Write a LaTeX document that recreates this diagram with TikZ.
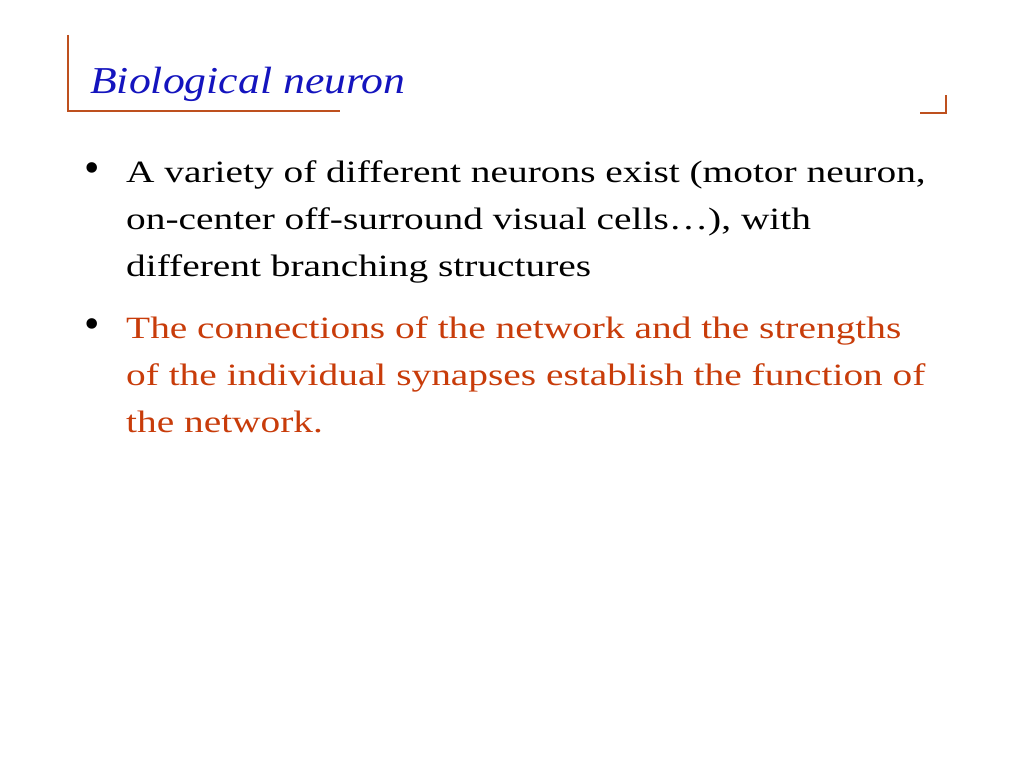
\documentclass[tikz,border=0pt]{standalone}
\usepackage{fontspec}
\setmainfont{Liberation Serif}
\newfontfamily\widefont[FakeStretch=1.27]{Liberation Serif}
\newfontfamily\titlefont[FakeStretch=1.15]{Liberation Serif}
\definecolor{brk}{RGB}{190,80,30}
\definecolor{ttl}{RGB}{20,20,190}
\definecolor{red2}{RGB}{200,60,10}
\begin{document}
\begin{tikzpicture}[x=1pt,y=-1pt,
  line/.style={anchor=base west,inner sep=0pt,font=\widefont\fontsize{31}{31}\selectfont},
  bul/.style={anchor=base west,inner sep=0pt,font=\fontsize{44}{44}\selectfont}]
\useasboundingbox (0,0) rectangle (1024,768);
\draw[brk,line width=1.5pt] (68,35) -- (68,111) -- (340,111);
\draw[brk,line width=1.5pt] (946,95) -- (946,113) -- (920,113);
\node[anchor=base west,inner sep=0pt,text=ttl,font=\titlefont\fontsize{38}{38}\selectfont\itshape] (title) at (90,93) {Biological neuron};
\node[bul] (b1) at (84,182) {•};
\node[line] (l1) at (126,182) {A variety of different neurons exist (motor neuron,};
\node[line] (l2) at (126,229) {on-center off-surround visual cells…), with};
\node[line] (l3) at (126,276) {different branching structures};
\node[bul] (b2) at (84,338) {•};
\node[line,text=red2] (l4) at (126,338) {The connections of the network and the strengths};
\node[line,text=red2] (l5) at (126,385) {of the individual synapses establish the function of};
\node[line,text=red2] (l6) at (126,432) {the network.};
\end{tikzpicture}
\end{document}
